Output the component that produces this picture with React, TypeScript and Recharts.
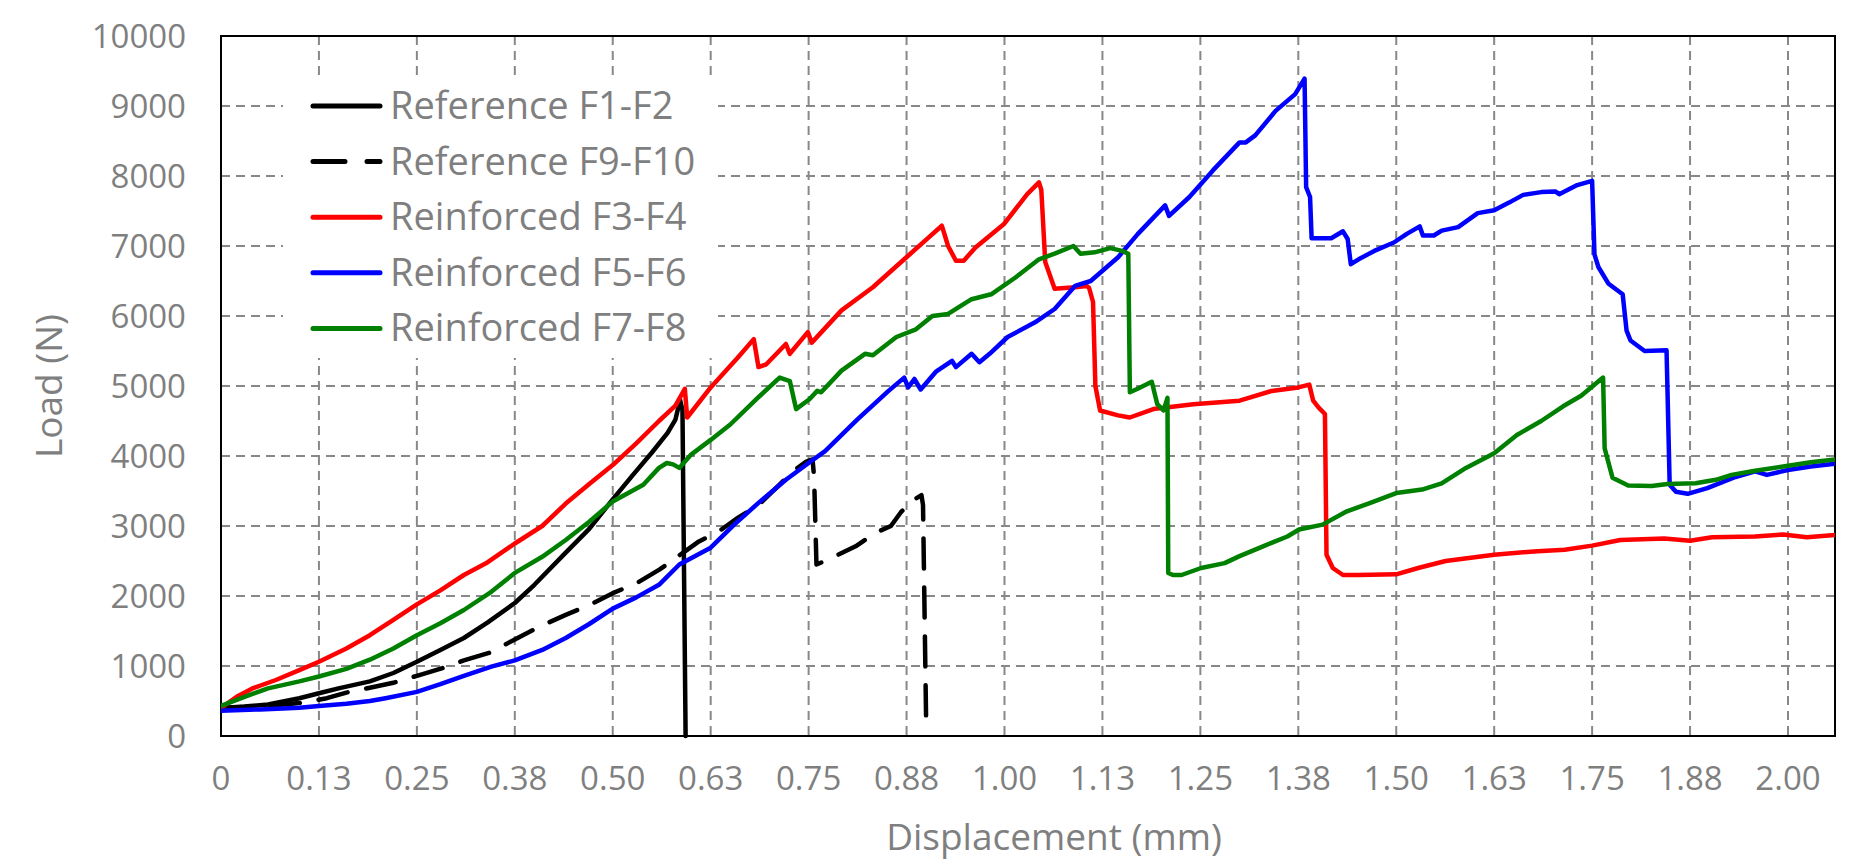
import {
  LineChart,
  Line,
  XAxis,
  YAxis,
  CartesianGrid,
  Legend,
  ReferenceArea,
  Label,
} from "recharts";

const X_TICKS = [
  0, 0.125, 0.25, 0.375, 0.5, 0.625, 0.75, 0.875, 1, 1.125, 1.25, 1.375, 1.5,
  1.625, 1.75, 1.875, 2,
];
const X_TICK_LABELS = [
  "0", "0.13", "0.25", "0.38", "0.50", "0.63", "0.75", "0.88", "1.00", "1.13",
  "1.25", "1.38", "1.50", "1.63", "1.75", "1.88", "2.00",
];
const Y_TICKS = [0, 1000, 2000, 3000, 4000, 5000, 6000, 7000, 8000, 9000, 10000];

// [displacement mm, load N]
const refF1F2 = [
  [0, 400], [0.03, 420], [0.06, 450], [0.1, 540], [0.125, 610], [0.15, 680],
  [0.19, 780], [0.22, 900], [0.25, 1060], [0.28, 1230], [0.31, 1400],
  [0.34, 1620], [0.375, 1900], [0.4, 2160], [0.44, 2620], [0.47, 2960],
  [0.5, 3380], [0.525, 3720], [0.55, 4050], [0.57, 4330], [0.58, 4520],
  [0.586, 4800], [0.589, 4650], [0.593, 0],
];

const refF9F10 = [
  [0, 400], [0.04, 420], [0.07, 440], [0.1, 470], [0.135, 540], [0.16, 620],
  [0.19, 690], [0.22, 760], [0.25, 860], [0.283, 970], [0.31, 1080],
  [0.343, 1190], [0.375, 1380], [0.41, 1580], [0.44, 1730], [0.47, 1870],
  [0.5, 2040], [0.53, 2180], [0.56, 2380], [0.59, 2620], [0.61, 2780],
  [0.635, 2920], [0.66, 3120], [0.686, 3300], [0.71, 3560], [0.73, 3780],
  [0.747, 3920], [0.755, 3950], [0.757, 3700], [0.76, 2450], [0.775, 2520],
  [0.81, 2710], [0.835, 2900], [0.855, 3000], [0.868, 3200], [0.885, 3380],
  [0.894, 3440], [0.896, 3300], [0.9, 200],
];

const reinfF3F4 = [
  [0, 400], [0.02, 560], [0.04, 680], [0.07, 800], [0.1, 940], [0.125, 1060],
  [0.16, 1250], [0.19, 1440], [0.22, 1660], [0.25, 1880], [0.28, 2080],
  [0.31, 2300], [0.34, 2480], [0.375, 2750], [0.41, 3000], [0.44, 3320],
  [0.47, 3600], [0.5, 3870], [0.53, 4180], [0.559, 4500], [0.58, 4720],
  [0.592, 4960], [0.595, 4550], [0.625, 4980], [0.66, 5410], [0.68, 5670],
  [0.686, 5270], [0.696, 5310], [0.721, 5600], [0.726, 5460], [0.749, 5770],
  [0.754, 5620], [0.792, 6080], [0.832, 6410], [0.877, 6860], [0.903, 7120],
  [0.92, 7290], [0.928, 7000], [0.938, 6790], [0.948, 6790], [0.963, 6980],
  [0.999, 7310], [1.029, 7740], [1.044, 7910], [1.047, 7800], [1.052, 6770],
  [1.064, 6390], [1.09, 6410], [1.105, 6430], [1.108, 6400], [1.113, 6200],
  [1.116, 5000], [1.122, 4650], [1.145, 4580], [1.16, 4550], [1.19, 4670],
  [1.241, 4740], [1.3, 4790], [1.341, 4930], [1.375, 4980], [1.389, 5020],
  [1.394, 4790], [1.401, 4690], [1.409, 4600], [1.411, 2590], [1.419, 2400],
  [1.432, 2300], [1.452, 2300], [1.5, 2310], [1.528, 2400], [1.563, 2500],
  [1.625, 2590], [1.68, 2640], [1.715, 2660], [1.75, 2720], [1.786, 2800],
  [1.842, 2820], [1.875, 2790], [1.903, 2840], [1.958, 2850], [1.994, 2880],
  [2.024, 2840], [2.06, 2870],
];

const reinfF5F6 = [
  [0, 360], [0.05, 380], [0.1, 405], [0.125, 430], [0.16, 460], [0.19, 500],
  [0.21, 540], [0.25, 630], [0.28, 740], [0.31, 860], [0.345, 990],
  [0.375, 1080], [0.41, 1230], [0.44, 1400], [0.47, 1600], [0.5, 1820],
  [0.53, 1980], [0.559, 2160], [0.585, 2450], [0.625, 2690], [0.655, 3020],
  [0.686, 3330], [0.721, 3660], [0.75, 3900], [0.771, 4070], [0.812, 4520],
  [0.852, 4930], [0.872, 5120], [0.877, 4980], [0.885, 5100], [0.893, 4950],
  [0.913, 5210], [0.933, 5360], [0.938, 5270], [0.958, 5460], [0.968, 5340],
  [0.981, 5460], [1.004, 5700], [1.039, 5910], [1.064, 6100], [1.09, 6430],
  [1.11, 6500], [1.145, 6840], [1.17, 7170], [1.205, 7580], [1.21, 7430],
  [1.236, 7700], [1.266, 8080], [1.3, 8480], [1.308, 8480], [1.32, 8580],
  [1.346, 8930], [1.371, 9170], [1.383, 9390], [1.385, 7840], [1.39, 7700],
  [1.392, 7110], [1.417, 7110], [1.432, 7210], [1.438, 7100], [1.442, 6740],
  [1.452, 6810], [1.472, 6930], [1.497, 7050], [1.513, 7170], [1.53, 7280],
  [1.534, 7150], [1.548, 7150], [1.558, 7220], [1.579, 7270], [1.604, 7470],
  [1.625, 7510], [1.644, 7620], [1.662, 7730], [1.685, 7770], [1.703, 7780],
  [1.708, 7740], [1.731, 7870], [1.75, 7930], [1.753, 6880], [1.758, 6700],
  [1.771, 6460], [1.789, 6310], [1.794, 5790], [1.799, 5650], [1.817, 5500],
  [1.845, 5510], [1.849, 3590], [1.857, 3490], [1.872, 3460], [1.897, 3540],
  [1.933, 3700], [1.958, 3780], [1.973, 3730], [2.0, 3800], [2.029, 3850],
  [2.06, 3890],
];

const reinfF7F8 = [
  [0, 430], [0.03, 560], [0.06, 680], [0.1, 780], [0.125, 850], [0.16, 960],
  [0.19, 1090], [0.22, 1250], [0.25, 1440], [0.28, 1610], [0.31, 1800],
  [0.345, 2060], [0.375, 2330], [0.41, 2560], [0.44, 2800], [0.47, 3060],
  [0.5, 3350], [0.539, 3590], [0.559, 3830], [0.569, 3900], [0.577, 3880],
  [0.585, 3830], [0.6, 4020], [0.625, 4230], [0.65, 4450], [0.686, 4840],
  [0.713, 5120], [0.726, 5070], [0.734, 4670], [0.751, 4810], [0.761, 4930],
  [0.766, 4910], [0.792, 5220], [0.822, 5460], [0.832, 5440], [0.862, 5700],
  [0.887, 5810], [0.908, 6000], [0.928, 6030], [0.958, 6240], [0.983, 6310],
  [1.014, 6550], [1.044, 6810], [1.064, 6890], [1.088, 7000], [1.097, 6890],
  [1.115, 6910], [1.135, 6970], [1.15, 6930], [1.158, 6890], [1.16, 4910],
  [1.17, 4960], [1.188, 5060], [1.195, 4740], [1.203, 4650], [1.208, 4830],
  [1.209, 2330], [1.215, 2300], [1.226, 2300], [1.251, 2400], [1.281, 2470],
  [1.3, 2570], [1.33, 2710], [1.361, 2850], [1.376, 2950], [1.406, 3020],
  [1.437, 3210], [1.467, 3330], [1.5, 3470], [1.533, 3520], [1.558, 3610],
  [1.589, 3830], [1.625, 4040], [1.654, 4300], [1.685, 4500], [1.713, 4710],
  [1.736, 4860], [1.764, 5120], [1.766, 4110], [1.776, 3690], [1.796, 3580],
  [1.826, 3570], [1.846, 3600], [1.882, 3610], [1.908, 3660], [1.928, 3730],
  [1.958, 3790], [2.0, 3860], [2.029, 3910], [2.06, 3950],
];

const SERIES = [
  { name: "Reference F1-F2", pts: refF1F2, color: "#000000", dashed: false },
  { name: "Reference F9-F10", pts: refF9F10, color: "#000000", dashed: true },
  { name: "Reinforced F3-F4", pts: reinfF3F4, color: "#FF0000", dashed: false },
  { name: "Reinforced F5-F6", pts: reinfF5F6, color: "#0000FF", dashed: false },
  { name: "Reinforced F7-F8", pts: reinfF7F8, color: "#008000", dashed: false },
];

const FONT = "'Open Sans', sans-serif";
const GRAY = "#7f7f7f";

function LegendBox() {
  return (
    <svg width={435} height={281} style={{ display: "block" }}>
      {SERIES.map((s, i) => {
        const cy = 29 + i * 55.6;
        return (
          <g key={s.name}>
            <line
              x1={30}
              x2={97}
              y1={cy}
              y2={cy}
              stroke={s.color}
              strokeWidth={5}
              strokeLinecap="round"
              strokeDasharray={s.dashed ? "32 22" : undefined}
            />
            <text
              x={107}
              y={cy + 13}
              fill={GRAY}
              fontSize={38}
              fontFamily={FONT}
            >
              {s.name}
            </text>
          </g>
        );
      })}
    </svg>
  );
}

export default function App() {
  return (
    <div
      style={{
        position: "fixed",
        left: 0,
        top: 0,
        width: 1862,
        height: 865,
        background: "#fff",
      }}
    >
      <LineChart
        width={1862}
        height={865}
        margin={{ top: 36, right: 27, bottom: 0, left: 0 }}
      >
        <CartesianGrid
          stroke="#888"
          strokeWidth={2}
          strokeDasharray="9 6"
          verticalValues={X_TICKS}
          horizontalValues={Y_TICKS}
        />
        <XAxis
          type="number"
          dataKey="x"
          domain={[0, 2.06]}
          ticks={X_TICKS}
          allowDataOverflow
          height={129}
          axisLine={false}
          tickLine={false}
          tickSize={0}
          tickMargin={31}
          interval={0}
          tickFormatter={(v: number) => X_TICK_LABELS[X_TICKS.indexOf(v)] ?? ""}
          tick={{ fontSize: 33, fill: GRAY, fontFamily: FONT }}
        >
          <Label
            content={() => (
              <text
                x={1054}
                y={850}
                textAnchor="middle"
                fill={GRAY}
                fontSize={37}
                fontFamily={FONT}
              >
                Displacement (mm)
              </text>
            )}
          />
        </XAxis>
        <YAxis
          type="number"
          domain={[0, 10000]}
          ticks={Y_TICKS}
          width={221}
          axisLine={false}
          tickLine={false}
          tickSize={0}
          tickMargin={35}
          interval={0}
          tick={{ fontSize: 33, fill: GRAY, fontFamily: FONT }}
        >
          <Label
            content={() => (
              <text
                x={47}
                y={386}
                transform="rotate(-90 47 386)"
                textAnchor="middle"
                dominantBaseline="central"
                fill={GRAY}
                fontSize={37}
                fontFamily={FONT}
              >
                Load (N)
              </text>
            )}
          />
        </YAxis>
        <ReferenceArea
          x1={0}
          x2={2.06}
          y1={0}
          y2={10000}
          fill="none"
          stroke="#000"
          strokeWidth={2}
        />
        {SERIES.map((s) => (
          <Line
            key={s.name}
            name={s.name}
            data={s.pts.map(([x, y]) => ({ x, y }))}
            dataKey="y"
            type="linear"
            stroke={s.color}
            strokeWidth={4.5}
            strokeDasharray={s.dashed ? "30 19" : undefined}
            strokeLinejoin="round"
            strokeLinecap="round"
            dot={false}
            activeDot={false}
            isAnimationActive={false}
          />
        ))}
        <Legend
          layout="horizontal"
          verticalAlign="middle"
          align="center"
          wrapperStyle={{
            left: 283,
            top: 77,
            width: 435,
            height: 281,
            backgroundColor: "#fff",
          }}
          content={() => <LegendBox />}
        />
      </LineChart>
    </div>
  );
}
